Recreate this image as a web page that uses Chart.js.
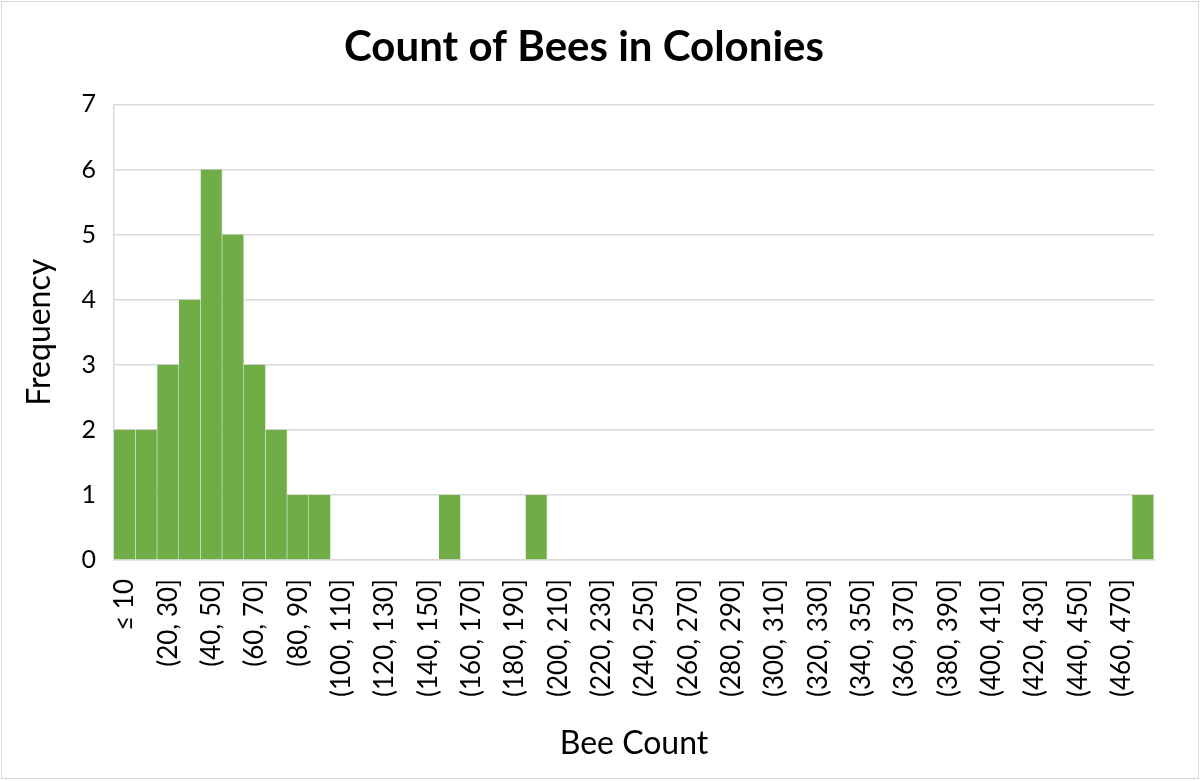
<!DOCTYPE html>
<html>
<head>
<meta charset="utf-8">
<script src="https://cdn.jsdelivr.net/npm/chart.js@4.4.1/dist/chart.umd.min.js"></script>
<style>
  html, body { margin: 0; padding: 0; background: #fff; }
  #wrap { width: 1200px; height: 781px; position: relative; }
</style>
</head>
<body>
<div id="wrap"><canvas id="chart" width="1200" height="781"></canvas></div>
<script>
const binLabels = [
  '≤ 10', '(10, 20]', '(20, 30]', '(30, 40]', '(40, 50]', '(50, 60]', '(60, 70]', '(70, 80]',
  '(80, 90]', '(90, 100]', '(100, 110]', '(110, 120]', '(120, 130]', '(130, 140]', '(140, 150]', '(150, 160]',
  '(160, 170]', '(170, 180]', '(180, 190]', '(190, 200]', '(200, 210]', '(210, 220]', '(220, 230]', '(230, 240]',
  '(240, 250]', '(250, 260]', '(260, 270]', '(270, 280]', '(280, 290]', '(290, 300]', '(300, 310]', '(310, 320]',
  '(320, 330]', '(330, 340]', '(340, 350]', '(350, 360]', '(360, 370]', '(370, 380]', '(380, 390]', '(390, 400]',
  '(400, 410]', '(410, 420]', '(420, 430]', '(430, 440]', '(440, 450]', '(450, 460]', '(460, 470]', '>470'
];
const frequencies = [
  2, 2, 3, 4, 6, 5, 3, 2,
  1, 1, 0, 0, 0, 0, 0, 1,
  0, 0, 0, 1, 0, 0, 0, 0,
  0, 0, 0, 0, 0, 0, 0, 0,
  0, 0, 0, 0, 0, 0, 0, 0,
  0, 0, 0, 0, 0, 0, 0, 1
];
const yTicks = [0, 1, 2, 3, 4, 5, 6, 7];

const FONT = "Lato, 'Open Sans', sans-serif";
const GRID = '#d9d9d9';

// light frame around the whole chart, like the Excel chart area
const frame = {
  id: 'frame',
  beforeDraw(chart) {
    const ctx = chart.ctx;
    ctx.save();
    ctx.fillStyle = '#fff';
    ctx.fillRect(0, 0, chart.width, chart.height);
    ctx.strokeStyle = GRID;
    ctx.lineWidth = 1;
    ctx.strokeRect(1.5, 1.5, chart.width - 3, chart.height - 4);
    ctx.restore();
  }
};

new Chart(document.getElementById('chart'), {
  type: 'bar',
  data: {
    labels: binLabels,
    datasets: [{
      data: frequencies,
      backgroundColor: '#70ad47',
      borderColor: '#d5e8c8',
      borderWidth: { right: 1, left: 0, top: 0, bottom: 0 },
      borderSkipped: false,
      barPercentage: 1,
      categoryPercentage: 1
    }]
  },
  options: {
    responsive: false,
    animation: false,
    layout: { padding: { top: 14, right: 46, left: 14, bottom: 14 } },
    plugins: {
      legend: { display: false },
      tooltip: { enabled: false },
      title: {
        display: true,
        text: 'Count of Bees in Colonies',
        color: '#000',
        font: { family: FONT, size: 42, weight: 'bold' },
        padding: { top: 8, bottom: 32 }
      }
    },
    scales: {
      x: {
        afterFit: axis => { axis.height = 207; },
        grid: { display: false, drawTicks: false },
        border: { color: GRID, width: 1.5 },
        ticks: {
          autoSkip: false,
          minRotation: 90,
          maxRotation: 90,
          padding: 19,
          color: '#000',
          font: { family: FONT, size: 26 },
          callback: (v, i) => (i % 2 === 0 ? binLabels[i] : '')
        },
        title: {
          display: true,
          text: 'Bee Count',
          color: '#000',
          font: { family: FONT, size: 32 },
          padding: { top: 0, bottom: 4 }
        }
      },
      y: {
        min: 0,
        max: 7,
        afterFit: axis => { axis.width = 100; },
        afterBuildTicks: axis => { axis.ticks = yTicks.map(v => ({ value: v })); },
        grid: { color: GRID, lineWidth: 1.5, drawTicks: false },
        border: { color: GRID, width: 1.5 },
        ticks: {
          padding: 18,
          color: '#000',
          font: { family: FONT, size: 25 }
        },
        title: {
          display: true,
          text: 'Frequency',
          color: '#000',
          font: { family: FONT, size: 32 },
          padding: { top: 6, bottom: 0 }
        }
      }
    }
  },
  plugins: [frame]
});
</script>
</body>
</html>
